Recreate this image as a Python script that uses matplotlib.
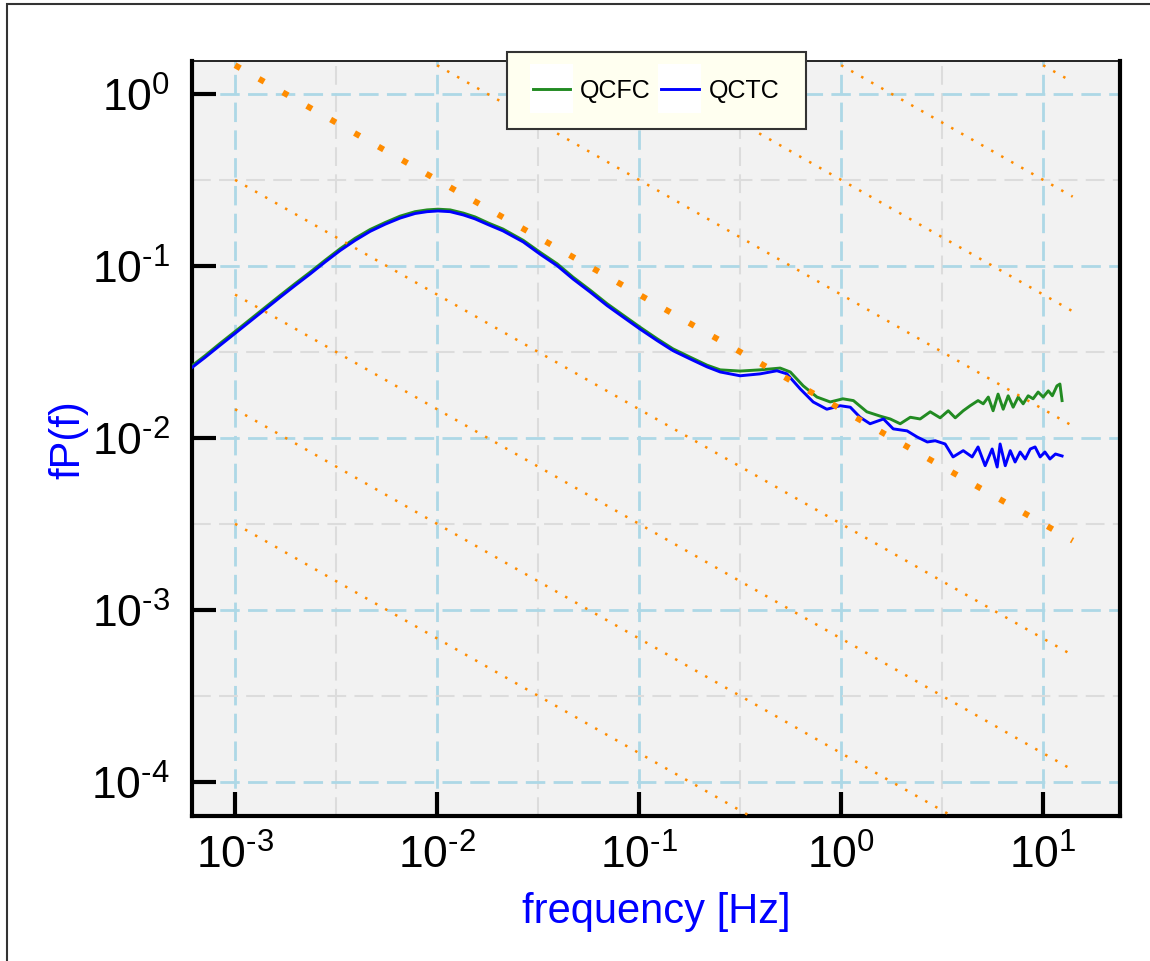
import math
import matplotlib
matplotlib.use("Agg")
import matplotlib.pyplot as plt
from matplotlib.patches import Rectangle
from matplotlib.legend_handler import HandlerLine2D
from matplotlib.ticker import FixedLocator, NullFormatter, FuncFormatter

plt.rcParams['font.family'] = ['Liberation Sans', 'DejaVu Sans']
plt.rcParams['mathtext.default'] = 'regular'

# spectra fP(f)
qcfc_f = [6.12e-4, 7.10e-4, 8.43e-4, 1.0e-3, 1.19e-3, 1.41e-3, 1.67e-3, 1.98e-3, 2.35e-3,
          2.79e-3, 3.31e-3, 3.93e-3, 4.66e-3, 5.53e-3, 6.56e-3, 7.78e-3, 8.92e-3, 1.01e-2,
          1.16e-2, 1.35e-2, 1.54e-2, 1.79e-2, 2.12e-2, 2.67e-2, 3.24e-2, 3.93e-2,
          4.71e-2, 5.72e-2, 6.95e-2, 8.33e-2, 0.101, 0.123, 0.147, 0.179, 0.217,
          0.252, 0.316, 0.397, 0.499, 0.560, 0.649, 0.759, 0.883, 1.02, 1.15,
          1.34, 1.56, 1.75, 1.96, 2.20, 2.46, 2.76, 3.09, 3.39, 3.67,
          4.02, 4.35, 4.76, 5.05, 5.35, 5.65, 5.98, 6.34, 6.71, 7.10,
          7.52, 7.96, 8.43, 8.91, 9.44, 10.0, 10.6, 11.1, 11.7, 12.1, 12.4]
qcfc_v = [0.0263, 0.0301, 0.0355, 0.0416, 0.0490, 0.0575, 0.0674, 0.0789, 0.0920,
          0.108, 0.126, 0.145, 0.163, 0.179, 0.195, 0.207, 0.212, 0.214,
          0.212, 0.203, 0.193, 0.178, 0.164, 0.141, 0.120, 0.103,
          0.0861, 0.0724, 0.0603, 0.0518, 0.0441, 0.0377, 0.0330, 0.0295, 0.0265,
          0.0249, 0.0245, 0.0249, 0.0255, 0.0242, 0.0201, 0.0173, 0.0162, 0.0169, 0.0165,
          0.0142, 0.0134, 0.0129, 0.0121, 0.0132, 0.0129, 0.0142, 0.0131, 0.0144, 0.0131,
          0.0144, 0.0154, 0.0165, 0.0158, 0.0173, 0.0144, 0.0180, 0.0147, 0.0176, 0.0151,
          0.0173, 0.0158, 0.0176, 0.0169, 0.0185, 0.0173, 0.0188, 0.0176, 0.0201, 0.0206, 0.0165]

qctc_f = [6.12e-4, 7.10e-4, 8.43e-4, 1.0e-3, 1.19e-3, 1.41e-3, 1.67e-3, 1.98e-3, 2.35e-3,
          2.79e-3, 3.31e-3, 3.93e-3, 4.66e-3, 5.53e-3, 6.56e-3, 7.78e-3, 8.92e-3, 1.01e-2,
          1.16e-2, 1.35e-2, 1.54e-2, 1.79e-2, 2.12e-2, 2.67e-2, 3.24e-2, 3.93e-2,
          4.71e-2, 5.72e-2, 6.95e-2, 8.33e-2, 0.101, 0.123, 0.147, 0.179, 0.217,
          0.252, 0.316, 0.397, 0.481, 0.539, 0.627, 0.727, 0.849, 0.989, 1.11,
          1.24, 1.39, 1.62, 1.81, 2.12, 2.38, 2.67, 2.92, 3.27, 3.58,
          4.02, 4.45, 4.76, 5.16, 5.59, 5.92, 6.12, 6.49, 6.87, 7.26,
          7.69, 8.15, 8.63, 9.12, 9.66, 10.2, 10.8, 11.5, 12.4]
qctc_v = [0.0257, 0.0294, 0.0346, 0.0406, 0.0478, 0.0561, 0.0658, 0.0770, 0.0898,
          0.1055, 0.123, 0.141, 0.159, 0.175, 0.190, 0.202, 0.207, 0.209,
          0.207, 0.198, 0.188, 0.174, 0.160, 0.138, 0.117, 0.1004,
          0.0840, 0.0706, 0.0588, 0.0505, 0.0430, 0.0368, 0.0322, 0.0288, 0.0259,
          0.0242, 0.0230, 0.0236, 0.0246, 0.0236, 0.0193, 0.0162, 0.0147, 0.0154, 0.0151,
          0.0132, 0.0121, 0.0129, 0.0113, 0.0110, 0.01013, 0.00948, 0.00964, 0.00923, 0.00776,
          0.00844, 0.00776, 0.00887, 0.00690, 0.00863, 0.00678, 0.00923, 0.00690, 0.00844, 0.00725,
          0.00829, 0.00755, 0.00863, 0.00887, 0.00776, 0.00829, 0.00755, 0.00807, 0.00786]

# f^(-2/3) guide lines: amplitude at f = 1 and frequency span of each
ref_amp = [6.82, 1.47, 0.3167, 0.0682, 0.0147, 3.167e-3, 6.82e-4, 1.47e-4, 3.17e-5]
ref_start = [10.0, 1.0, 0.1, 0.01, 1e-3, 1e-3, 1e-3, 1e-3, 1e-3]
ref_end = 14.0
main_ref = 4  # the heavy one


def decade_label(v, pos):
    n = int(round(math.log10(v)))
    s = str(n).replace('-', '\u2010')
    return '$\\mathregular{10^{%s}}$' % s


fig = plt.figure(figsize=(11.5, 9.62), dpi=100)
ax = fig.add_axes([192 / 1150, 1 - 817 / 962, (1120 - 192) / 1150, (817 - 62) / 962])
ax.set_facecolor('#f2f2f2')
ax.set_xscale('log')
ax.set_yscale('log')
ax.set_xlim(6.12e-4, 24.0)
ax.set_ylim(6.34e-5, 1.556)
ax.xaxis.set_major_formatter(FuncFormatter(decade_label))
ax.yaxis.set_major_formatter(FuncFormatter(decade_label))

# half-decade minor grid
ax.xaxis.set_minor_locator(FixedLocator([10 ** (n + 0.5) for n in range(-4, 2)]))
ax.yaxis.set_minor_locator(FixedLocator([10 ** (n + 0.5) for n in range(-5, 1)]))
ax.xaxis.set_minor_formatter(NullFormatter())
ax.yaxis.set_minor_formatter(NullFormatter())
ax.grid(True, which='major', color='#add8e6', lw=2, dashes=(7, 3), zorder=0)
ax.grid(True, which='minor', color='#dcdcdc', lw=1.5, dashes=(9, 4), zorder=0)
ax.set_axisbelow(True)

green, = ax.plot(qcfc_f, qcfc_v, color='#228b22', lw=2.1, label='QCFC', zorder=3)
blue, = ax.plot(qctc_f, qctc_v, color='#0000ff', lw=2.1, label='QCTC', zorder=4)

for i, (a, f0) in enumerate(zip(ref_amp, ref_start)):
    fs = [f0, ref_end]
    ys = [a * f ** (-2 / 3) for f in fs]
    lw = 4.3 if i == main_ref else 1.8
    ax.plot(fs, ys, color='#ff8c00', lw=lw, dashes=(1, 3.6), zorder=5)

ax.tick_params(which='major', direction='in', length=17, width=3, labelsize=32,
               top=False, right=False)
ax.tick_params(axis='y', pad=16)
ax.tick_params(axis='x', pad=13)
ax.tick_params(which='minor', length=0)
for side in ['left', 'bottom', 'right']:
    ax.spines[side].set_linewidth(3)
ax.spines['top'].set_linewidth(1.2)

ax.set_xlabel('frequency [Hz]', fontsize=30, color='#0000ff', labelpad=10)
ax.set_ylabel('fP(f)', fontsize=30, color='#0000ff', labelpad=2)


class BoxedLine(HandlerLine2D):
    # legend handle drawn on a small white card
    def create_artists(self, legend, orig_handle, xdescent, ydescent,
                       width, height, fontsize, trans):
        arts = super().create_artists(legend, orig_handle, xdescent, ydescent,
                                      width, height, fontsize, trans)
        card = Rectangle((-xdescent - 2, -ydescent - 11), width + 4, height + 22,
                         facecolor='white', edgecolor='none', transform=trans)
        return [card] + arts


leg = ax.legend(handles=[green, blue], loc='upper center', ncol=2,
                bbox_to_anchor=(0.5, 1 + 9 / 755), borderaxespad=0, fontsize=18,
                borderpad=1.05, handlelength=1.5, handletextpad=0.4, columnspacing=0.4,
                fancybox=False, framealpha=1,
                handler_map={green: BoxedLine(), blue: BoxedLine()})
leg.get_frame().set_facecolor('#fffff0')
leg.get_frame().set_edgecolor('#333333')
leg.get_frame().set_linewidth(1.5)
leg.set_zorder(10)

# figure frame
fig.patches.append(Rectangle((7 / 1150, -0.1), 1.2, 1.1 - 5 / 962, transform=fig.transFigure,
                             fill=False, edgecolor='#333333', lw=1.5, clip_on=False))

fig.savefig('out.png', dpi=100)
